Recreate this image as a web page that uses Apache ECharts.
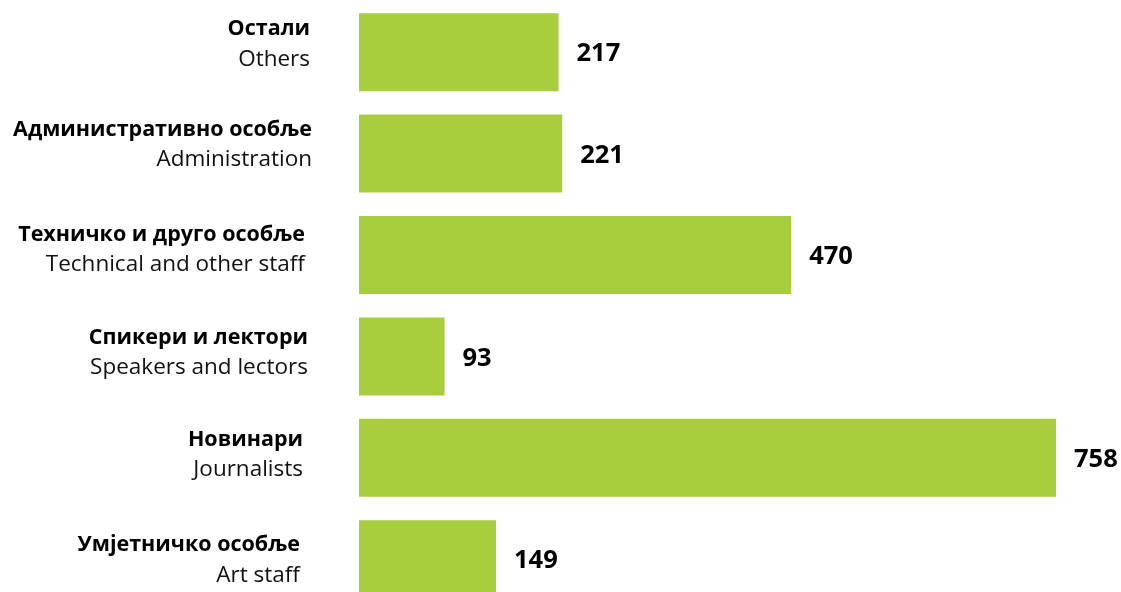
<!DOCTYPE html>
<html>
<head>
<meta charset="utf-8">
<script src="https://cdn.jsdelivr.net/npm/echarts@6/dist/echarts.min.js"></script>
<style>
html,body{margin:0;padding:0;background:#fff;overflow:hidden;}
#chart{width:1121px;height:612px;}
</style>
</head>
<body>
<div id="chart"></div>
<script>
const categoriesLocal = ["Остали", "Административно особље", "Техничко и друго особље", "Спикери и лектори", "Новинари", "Умјетничко особље"];
const categoriesEnglish = ["Others", "Administration", "Technical and other staff", "Speakers and lectors", "Journalists", "Art staff"];
const values = [217, 221, 470, 93, 758, 149];

// layout nudges for the category labels (pixels): right inset, vertical shift
const labelInset = [2, 0, 7, 4, 9, 12];
const labelShift = [-8, -9, -5, -4, -3, 1];

const FONT = "'Open Sans', 'Noto Sans', sans-serif";
const rich = {};
categoriesLocal.forEach((c, i) => {
  const dx = labelInset[i];
  rich['b' + i] = { fontFamily: FONT, fontSize: 21.5, fontWeight: 'bold', color: '#000', lineHeight: 30, align: 'right', padding: [0, dx, 0, 0] };
  rich['r' + i] = { fontFamily: FONT, fontSize: 22.5, color: '#111', lineHeight: 30, align: 'right', padding: [0, dx, 0, 0] };
  rich['s' + i] = { fontSize: 1, lineHeight: Math.max(1, Math.abs(2 * labelShift[i])) };
});

const chart = echarts.init(document.getElementById('chart'));
chart.setOption({
  animation: false,
  grid: { left: 359, right: 26.4, top: 1.5, height: 608.4, containLabel: false },
  xAxis: { type: 'value', min: 0, max: 800, show: false },
  yAxis: {
    type: 'category',
    inverse: true,
    data: categoriesLocal,
    axisLine: { show: false },
    axisTick: { show: false },
    axisLabel: {
      margin: 47,
      align: 'right',
      formatter: function (v, i) {
        const main = '{b' + i + '|' + categoriesLocal[i] + '}\n{r' + i + '|' + categoriesEnglish[i] + '}';
        const sp = '{s' + i + '|\u00a0}';
        return labelShift[i] < 0 ? main + '\n' + sp : sp + '\n' + main;
      },
      rich: rich
    }
  },
  series: [{
    type: 'bar',
    data: values,
    barWidth: 78,
    itemStyle: { color: '#A9CE3D' },
    label: {
      show: true,
      position: 'right',
      distance: 18,
      offset: [0, 2],
      fontFamily: FONT,
      fontSize: 25.5,
      fontWeight: 'bold',
      color: '#000'
    }
  }]
});
</script>
</body>
</html>
